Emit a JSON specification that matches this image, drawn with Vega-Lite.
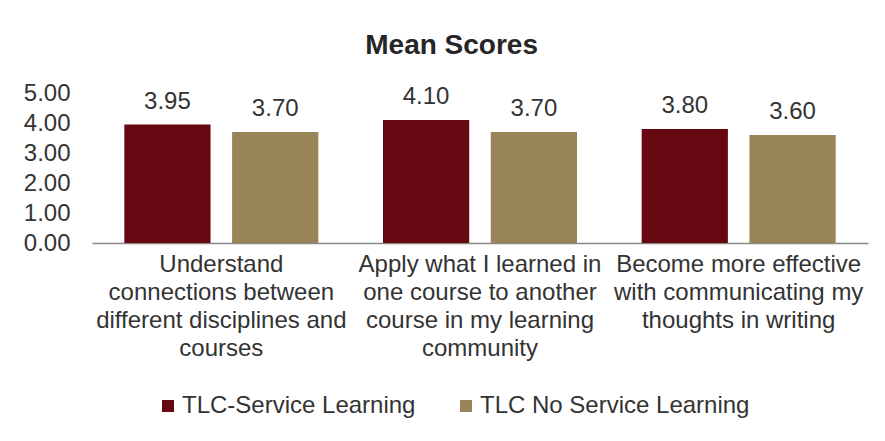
{
  "$schema": "https://vega.github.io/schema/vega-lite/v6.json",
  "width": 776,
  "height": 150,
  "autosize": {"type": "none"},
  "padding": {"left": 92, "top": 93, "right": 17, "bottom": 198},
  "background": "white",
  "title": {
    "text": "Mean Scores",
    "fontSize": 28,
    "fontWeight": "bold",
    "color": "#262626",
    "anchor": "middle",
    "frame": "bounds",
    "dx": 6,
    "offset": 21
  },
  "data": {
    "values": [
      {"cat": "Understand|connections between|different disciplines and|courses", "group": "TLC-Service Learning", "value": 3.95},
      {"cat": "Understand|connections between|different disciplines and|courses", "group": "TLC No Service Learning", "value": 3.70},
      {"cat": "Apply what I learned in|one course to another|course in my learning|community", "group": "TLC-Service Learning", "value": 4.10},
      {"cat": "Apply what I learned in|one course to another|course in my learning|community", "group": "TLC No Service Learning", "value": 3.70},
      {"cat": "Become more effective|with communicating my|thoughts in writing", "group": "TLC-Service Learning", "value": 3.80},
      {"cat": "Become more effective|with communicating my|thoughts in writing", "group": "TLC No Service Learning", "value": 3.60}
    ]
  },
  "encoding": {
    "x": {
      "field": "cat",
      "type": "nominal",
      "sort": null,
      "title": null,
      "scale": {"paddingInner": 0.25, "paddingOuter": 0.125},
      "axis": {
        "labelExpr": "split(datum.label, '|')",
        "labelAngle": 0,
        "labelLimit": 0,
        "labelFontSize": 24,
        "labelLineHeight": 28,
        "labelColor": "#333333",
        "labelPadding": 9,
        "labelBaseline": "top",
        "ticks": false,
        "domainColor": "#898989",
        "domainWidth": 1.5
      }
    },
    "xOffset": {
      "field": "group",
      "type": "nominal",
      "sort": ["TLC-Service Learning", "TLC No Service Learning"],
      "scale": {"paddingInner": 0.2, "paddingOuter": 0}
    },
    "y": {
      "field": "value",
      "type": "quantitative",
      "title": null,
      "scale": {"domain": [0, 5], "nice": false},
      "axis": {
        "values": [0, 1, 2, 3, 4, 5],
        "format": ".2f",
        "grid": false,
        "domain": false,
        "ticks": false,
        "labelFontSize": 24,
        "labelColor": "#333333",
        "labelPadding": 22
      }
    }
  },
  "layer": [
    {
      "mark": {"type": "bar"},
      "encoding": {
        "color": {
          "field": "group",
          "type": "nominal",
          "sort": ["TLC-Service Learning", "TLC No Service Learning"],
          "scale": {"range": ["#650811", "#998358"]},
          "legend": {
            "orient": "none",
            "legendX": 64,
            "legendY": 301,
            "direction": "horizontal",
            "title": null,
            "symbolType": "square",
            "symbolSize": 144,
            "symbolStrokeWidth": 0,
            "symbolOpacity": 1,
            "labelFontSize": 24,
            "labelColor": "#333333",
            "labelOffset": 2,
            "labelLimit": 0,
            "columnPadding": 38
          }
        }
      }
    },
    {
      "mark": {"type": "text", "fontSize": 24, "color": "#333333", "baseline": "alphabetic", "dy": -16},
      "encoding": {
        "text": {"field": "value", "type": "quantitative", "format": ".2f"}
      }
    }
  ],
  "config": {
    "font": "Liberation Sans",
    "view": {"stroke": null}
  }
}
